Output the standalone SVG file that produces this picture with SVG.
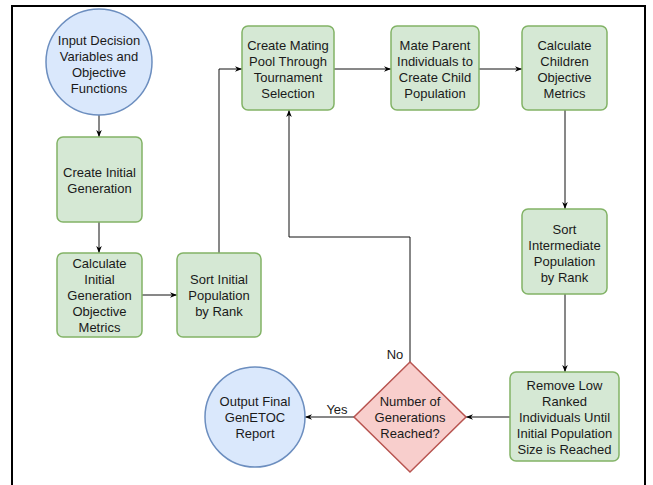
<svg xmlns="http://www.w3.org/2000/svg" width="653" height="485" viewBox="0 0 653 485">
<style>
.g{fill:#d5e8d4;stroke:#82b366;stroke-width:1.5}
.b{fill:#dae8fc;stroke:#6c8ebf;stroke-width:1.5}
.r{fill:#f8cecc;stroke:#b85450;stroke-width:1.5}
text{font-family:"Liberation Sans",Arial,sans-serif;font-size:13px;fill:#1a1a1a;text-anchor:middle}
.e{fill:none;stroke:#111;stroke-width:1;marker-end:url(#a)}
</style>
<defs>
<marker id="a" viewBox="0 0 10 10" refX="10" refY="5" markerWidth="7" markerHeight="7" orient="auto">
<path d="M0,1 L10,5 L0,9 L3,5 z" fill="#000"/>
</marker>
</defs>
<rect x="0" y="0" width="653" height="485" fill="#fff"/>
<rect x="12" y="6" width="633" height="500" fill="none" stroke="#000" stroke-width="2"/>
<g id="connectors">
<path class="e" d="M99,115 V137"/>
<path class="e" d="M99,222 V253"/>
<path class="e" d="M142,295 H177"/>
<path class="e" d="M219,253 V69 H242"/>
<path class="e" d="M334,69 H391"/>
<path class="e" d="M479,69 H522"/>
<path class="e" d="M565,110 V209"/>
<path class="e" d="M565,294 V372"/>
<path class="e" d="M510,417 H466"/>
<path class="e" d="M410,362 V237 H289 V110"/>
<path class="e" d="M354,417 H305"/>
<text x="337" y="414">Yes</text>
<text x="395" y="359">No</text>
</g>
<g id="input">
<circle class="b" cx="99" cy="62" r="53"/>
<text x="99" y="44.5">Input Decision</text>
<text x="99" y="60.5">Variables and</text>
<text x="99" y="76.5">Objective</text>
<text x="99" y="92.5">Functions</text>
</g>
<g id="create-initial">
<rect class="g" x="57" y="137" width="85" height="85" rx="6"/>
<text x="99.5" y="176.5">Create Initial</text>
<text x="99.5" y="192.5">Generation</text>
</g>
<g id="calc-initial">
<rect class="g" x="57" y="253" width="85" height="84" rx="6"/>
<text x="99.5" y="268">Calculate</text>
<text x="99.5" y="284">Initial</text>
<text x="99.5" y="300">Generation</text>
<text x="99.5" y="316">Objective</text>
<text x="99.5" y="332">Metrics</text>
</g>
<g id="sort-initial">
<rect class="g" x="177" y="253" width="84" height="84" rx="6"/>
<text x="219" y="284">Sort Initial</text>
<text x="219" y="300">Population</text>
<text x="219" y="316">by Rank</text>
</g>
<g id="mating-pool">
<rect class="g" x="242" y="26" width="92" height="84" rx="6"/>
<text x="288" y="49.5">Create Mating</text>
<text x="288" y="65.5">Pool Through</text>
<text x="288" y="81.5">Tournament</text>
<text x="288" y="97.5">Selection</text>
</g>
<g id="mate-parent">
<rect class="g" x="391" y="26" width="88" height="84" rx="6"/>
<text x="435" y="49.5">Mate Parent</text>
<text x="435" y="65.5">Individuals to</text>
<text x="435" y="81.5">Create Child</text>
<text x="435" y="97.5">Population</text>
</g>
<g id="calc-children">
<rect class="g" x="522" y="26" width="85" height="84" rx="6"/>
<text x="564.5" y="49.5">Calculate</text>
<text x="564.5" y="65.5">Children</text>
<text x="564.5" y="81.5">Objective</text>
<text x="564.5" y="97.5">Metrics</text>
</g>
<g id="sort-intermediate">
<rect class="g" x="522" y="209" width="85" height="85" rx="6"/>
<text x="564.5" y="234">Sort</text>
<text x="564.5" y="250">Intermediate</text>
<text x="564.5" y="266">Population</text>
<text x="564.5" y="282">by Rank</text>
</g>
<g id="remove-low">
<rect class="g" x="510" y="372" width="109" height="89" rx="6"/>
<text x="564.5" y="390">Remove Low</text>
<text x="564.5" y="406">Ranked</text>
<text x="564.5" y="422">Individuals Until</text>
<text x="564.5" y="438">Initial Population</text>
<text x="564.5" y="454">Size is Reached</text>
</g>
<g id="decision">
<polygon class="r" points="410,362 466,417 410,472 354,417"/>
<text x="410" y="406">Number of</text>
<text x="410" y="422">Generations</text>
<text x="410" y="438">Reached?</text>
</g>
<g id="output">
<circle class="b" cx="255" cy="417" r="50"/>
<text x="255" y="406">Output Final</text>
<text x="255" y="422">GenETOC</text>
<text x="255" y="438">Report</text>
</g>
</svg>
